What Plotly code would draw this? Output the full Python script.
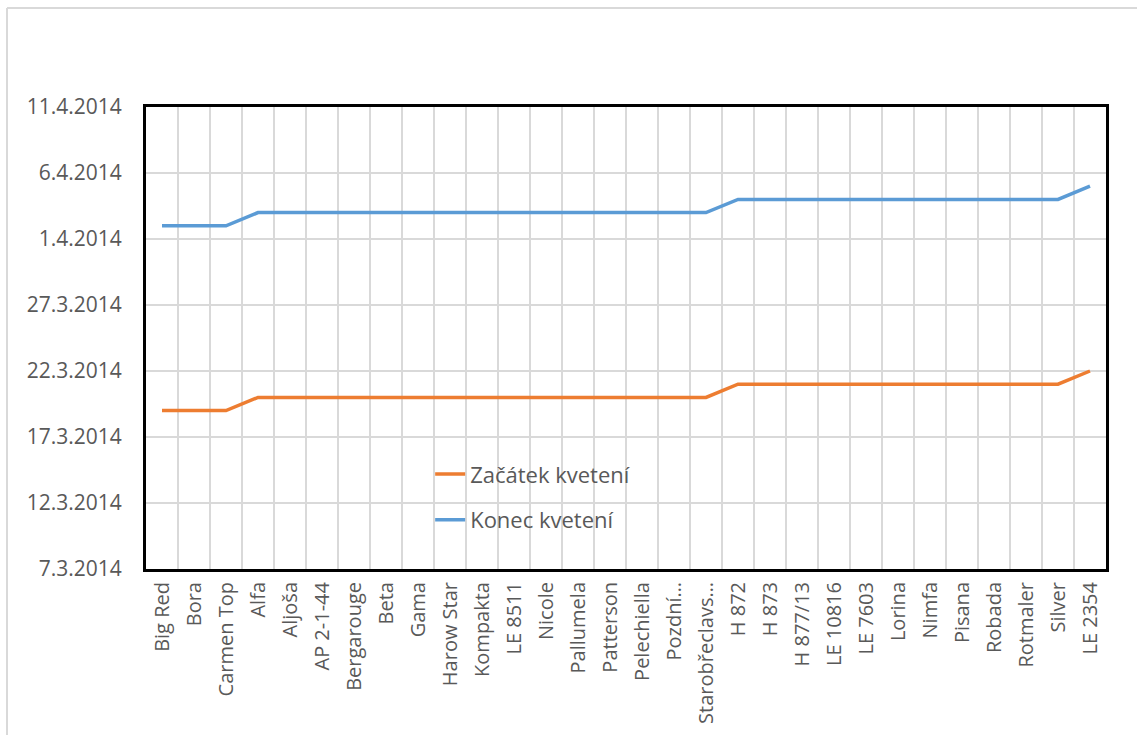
import plotly.graph_objects as go

# Varieties in the order they are plotted
varieties = [
    "Big Red", "Bora", "Carmen Top", "Alfa", "Aljoša", "AP 2-1-44", "Bergarouge",
    "Beta", "Gama", "Harow Star", "Kompakta", "LE 8511", "Nicole", "Pallumela",
    "Patterson", "Pelechiella", "Pozdní…", "Starobřeclavs…", "H 872", "H 873",
    "H 877/13", "LE 10816", "LE 7603", "Lorina", "Nimfa", "Pisana", "Robada",
    "Rotmaler", "Silver", "LE 2354",
]

# Start of flowering
flower_start = (
    ["2014-03-19"] * 3
    + ["2014-03-20"] * 15
    + ["2014-03-21"] * 11
    + ["2014-03-22"]
)

# End of flowering
flower_end = (
    ["2014-04-02"] * 3
    + ["2014-04-03"] * 15
    + ["2014-04-04"] * 11
    + ["2014-04-05"]
)

y_range = ["2014-03-07", "2014-04-11"]

TEXT = "#595959"
GRID = "#d9d9d9"
FONT = "Open Sans"

fig = go.Figure()
fig.add_trace(go.Scatter(
    x=varieties, y=flower_start, mode="lines", name="Začátek kvetení",
    line=dict(color="#ED7D31", width=3.5), legend="legend",
))
fig.add_trace(go.Scatter(
    x=varieties, y=flower_end, mode="lines", name="Konec kvetení",
    line=dict(color="#5B9BD5", width=3.5), legend="legend2",
))

legend_common = dict(
    bgcolor="rgba(0,0,0,0)", font=dict(family=FONT, size=22, color=TEXT),
    xanchor="left", yanchor="middle", x=0.296,
)

fig.update_layout(
    width=1137, height=735,
    margin=dict(l=146, r=31, t=107, b=166),
    paper_bgcolor="white", plot_bgcolor="white",
    font=dict(family=FONT, size=20, color=TEXT),
    showlegend=True,
    legend=dict(y=0.205, **legend_common),
    legend2=dict(y=0.106, **legend_common),
    xaxis=dict(
        type="category", tickson="boundaries", ticks="",
        showgrid=True, gridcolor=GRID, gridwidth=1.8,
        tickangle=-90, tickfont=dict(family=FONT, size=20, color=TEXT),
        ticklabelstandoff=2,
        showline=True, linecolor="black", linewidth=3, mirror=True,
        range=[-0.5, len(varieties) - 0.5],
    ),
    yaxis=dict(
        type="date", range=y_range, tick0=y_range[0], dtick=5 * 86400000,
        tickformat="%-d.%-m.%Y", ticks="", ticklabelstandoff=17,
        showgrid=True, gridcolor=GRID, gridwidth=1.8,
        tickfont=dict(family=FONT, size=21, color=TEXT),
        showline=True, linecolor="black", linewidth=3, mirror=True,
        zeroline=False,
    ),
    shapes=[
        # light frame around the whole chart area
        dict(type="line", xref="paper", yref="paper",
             x0=(7 - 146) / 960, x1=(1140 - 146) / 960,
             y0=(569 - 8) / 462, y1=(569 - 8) / 462,
             line=dict(color=GRID, width=2)),
        dict(type="line", xref="paper", yref="paper",
             x0=(7 - 146) / 960, x1=(7 - 146) / 960,
             y0=(569 - 8) / 462, y1=(569 - 740) / 462,
             line=dict(color=GRID, width=2)),
    ],
)

fig.write_html("out.html")
